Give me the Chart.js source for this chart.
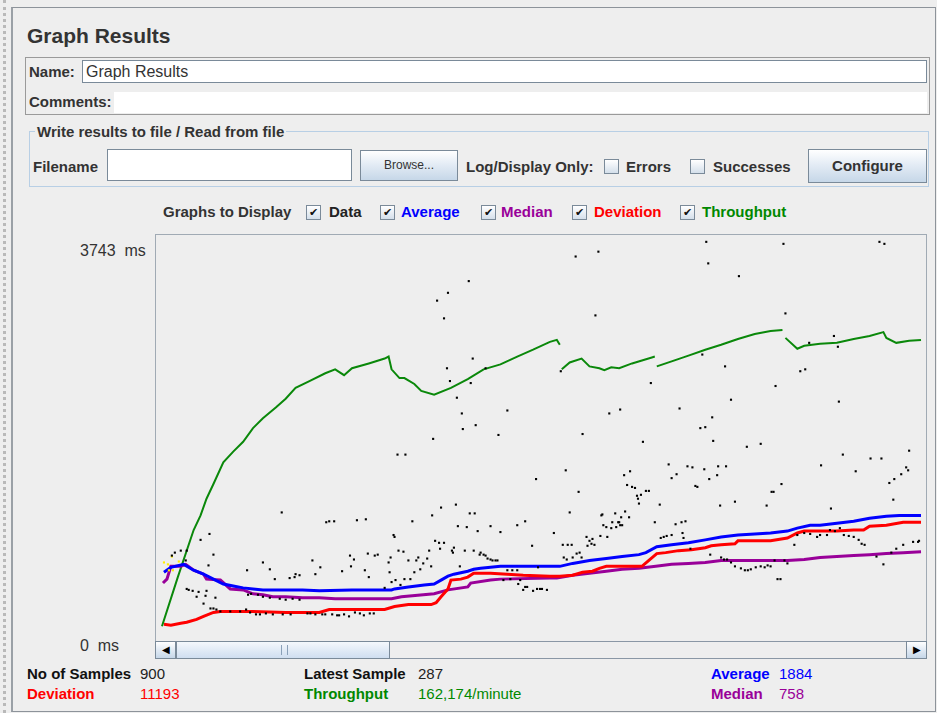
<!DOCTYPE html>
<html lang="en">
  <head>
    <meta charset="UTF-8" />
    <title>Graph Results</title>
    <script src="https://cdn.jsdelivr.net/npm/chart.js"></script>
    <style>
      body {
        margin: 0;
        width: 937px;
        height: 713px;
        background: #eeeeee;
        font-family: 'Liberation Sans', Arial, sans-serif;
        color: #222;
        position: relative;
        overflow: hidden;
      }
      .abs { position: absolute; white-space: nowrap; line-height: 18px; }
      .b { font-weight: bold; }
      .lbl { font-size: 15px; font-weight: bold; color: #333; }
      .val { font-size: 15px; }
      .field { position: absolute; background: #fff; border: 1px solid #7a8a99; box-sizing: border-box; }
      .btn {
        position: absolute; box-sizing: border-box; border: 1px solid #7a8a99;
        background: linear-gradient(#ffffff, #e4ecf5 45%, #c6d7e8);
        text-align: center; color: #333;
      }
      .cb {
        position: absolute; width: 15px; height: 15px; box-sizing: border-box;
        border: 1px solid #7a8a99; background: linear-gradient(#ffffff, #d4dfeb);
        font-size: 11px; line-height: 13px; text-align: center; color: #111;
      }
      #frame {
        position: absolute; left: 155px; top: 234px; width: 772px; height: 407px;
        box-sizing: border-box; border: 1px solid #a0aab4; border-bottom: none;
      }
      #graph { position: absolute; left: 156px; top: 235px; }
    </style>
  </head>
  <body>
    <!-- splitter strip + outer panel -->
    <div class="abs" style="left:3px;top:0;width:0;height:713px;border-left:3px dotted #b9b9b9"></div>
    <div class="abs" style="left:11px;top:7px;width:922px;height:703px;border:1px solid #8d939a;border-left:2px solid #9aa0a6"></div>

    <div class="abs b" style="left:27px;top:25px;font-size:21px;line-height:22px;color:#333">Graph Results</div>

    <div class="abs" style="left:25px;top:57px;width:903px;height:56px;border:1px solid #9a9a9a"></div>
    <div class="abs lbl" style="left:29px;top:63px">Name:</div>
    <div class="field" style="left:82px;top:60px;width:845px;height:23px"></div>
    <div class="abs" style="left:86px;top:63px;font-size:16px;color:#333">Graph Results</div>
    <div class="abs lbl" style="left:29px;top:93px">Comments:</div>
    <div class="abs" style="left:114px;top:92px;width:813px;height:21px;background:#fff"></div>

    <div class="abs" style="left:29px;top:131px;width:898px;height:54px;border:1px solid #b8cfe5"></div>
    <div class="abs lbl" style="left:35px;top:123px;background:#eeeeee;padding:0 2px">Write results to file / Read from file</div>
    <div class="abs lbl" style="left:33px;top:158px">Filename</div>
    <div class="field" style="left:107px;top:149px;width:245px;height:32px"></div>
    <div class="btn" style="left:360px;top:150px;width:98px;height:31px;font-size:12px;line-height:29px">Browse...</div>
    <div class="abs lbl" style="left:466px;top:158px">Log/Display Only:</div>
    <div class="cb" style="left:604px;top:159px"></div>
    <div class="abs lbl" style="left:626px;top:158px">Errors</div>
    <div class="cb" style="left:690px;top:159px"></div>
    <div class="abs lbl" style="left:713px;top:158px">Successes</div>
    <div class="btn b" style="left:808px;top:149px;width:119px;height:34px;font-size:15px;line-height:32px">Configure</div>

    <div class="abs lbl" style="left:163px;top:203px">Graphs to Display</div>
    <div class="cb" style="left:306px;top:205px">&#10004;</div>
    <div class="abs lbl" style="left:329px;top:203px;color:#222">Data</div>
    <div class="cb" style="left:380px;top:205px">&#10004;</div>
    <div class="abs lbl" style="left:401px;top:203px;color:#0000ff">Average</div>
    <div class="cb" style="left:481px;top:205px">&#10004;</div>
    <div class="abs lbl" style="left:501px;top:203px;color:#990099">Median</div>
    <div class="cb" style="left:572px;top:205px">&#10004;</div>
    <div class="abs lbl" style="left:594px;top:203px;color:#ff0000">Deviation</div>
    <div class="cb" style="left:680px;top:205px">&#10004;</div>
    <div class="abs lbl" style="left:702px;top:203px;color:#008800">Throughput</div>

    <div class="abs" style="left:80px;top:242px;font-size:16px;color:#333">3743&nbsp; ms</div>
    <div class="abs" style="left:80px;top:637px;font-size:16px;color:#333">0 &nbsp;ms</div>

    <div id="frame"></div>
    <canvas id="graph" width="770" height="403"></canvas>

    <!-- horizontal scrollbar -->
    <div class="abs" style="left:155px;top:641px;width:772px;height:18px;box-sizing:border-box;border:1px solid #8a97a5;background:#eeeeee"></div>
    <div class="btn" style="left:155px;top:641px;width:21px;height:18px;font-size:10px;line-height:16px;color:#000">&#9664;</div>
    <div class="abs" style="left:176px;top:641px;width:214px;height:18px;box-sizing:border-box;border:1px solid #7a8a99;background:linear-gradient(#f4f8fc,#cfdef0)"></div>
    <div class="abs" style="left:281px;top:645px;width:5px;height:10px;border-left:1px solid #8aa0b8;border-right:1px solid #8aa0b8"></div>
    <div class="btn" style="left:906px;top:641px;width:21px;height:18px;font-size:10px;line-height:16px;color:#000">&#9654;</div>

    <!-- statistics -->
    <div class="abs lbl" style="left:27px;top:665px;color:#111">No of Samples</div>
    <div class="abs val" style="left:140px;top:665px;color:#222">900</div>
    <div class="abs lbl" style="left:304px;top:665px;color:#111">Latest Sample</div>
    <div class="abs val" style="left:418px;top:665px;color:#222">287</div>
    <div class="abs lbl" style="left:711px;top:665px;color:#0000ff">Average</div>
    <div class="abs val" style="left:779px;top:665px;color:#0000ff">1884</div>
    <div class="abs lbl" style="left:27px;top:685px;color:#ff0000">Deviation</div>
    <div class="abs val" style="left:140px;top:685px;color:#ff0000">11193</div>
    <div class="abs lbl" style="left:304px;top:685px;color:#008800">Throughput</div>
    <div class="abs val" style="left:418px;top:685px;color:#008800">162,174/minute</div>
    <div class="abs lbl" style="left:711px;top:685px;color:#990099">Median</div>
    <div class="abs val" style="left:779px;top:685px;color:#990099">758</div>

    <script>
      // sample index (x) and response time in ms (y)
      const yMax = 3743;
      const xMax = 770;

      const throughputIdx = [2, 18, 34, 41, 47, 54, 64, 74, 84, 94, 104, 117, 127, 137, 151, 167, 177, 186, 194, 211,
        227, 231, 234, 242, 247, 257, 264, 277, 294, 311, 327, 344, 361, 377, 394, 401, 404, 405, 406, 414,
        426, 434, 444, 449, 456, 464, 477, 497, 500, 501, 502, 517, 534, 551, 567, 584, 601, 617, 629, 630,
        632, 644, 651, 667, 684, 701, 717, 731, 734, 744, 757, 769];
      const throughputMs = [74, 539, 985, 1124, 1282, 1421, 1626, 1728, 1821, 1951, 2044, 2146, 2230, 2332, 2397, 2471, 2508, 2453, 2518, 2564,
        2610, 2629, 2508, 2425, 2425, 2369, 2304, 2267, 2332, 2415, 2508, 2555, 2629, 2694, 2768, 2787, 2741, null, 2508, 2573,
        2610, 2536, 2518, 2499, 2527, 2518, 2564, 2620, 2629, null, 2536, 2583, 2638, 2694, 2741, 2796, 2843, 2871, 2880, null,
        2806, 2703, 2731, 2750, 2759, 2796, 2824, 2861, 2806, 2759, 2778, 2787];

      const averageIdx = [4, 11, 24, 34, 44, 54, 64, 74, 84, 94, 104, 127, 144, 161, 194, 234, 237, 251, 267, 277,
        284, 291, 297, 311, 317, 324, 344, 394, 404, 417, 434, 451, 467, 484, 491, 502, 517, 534, 551, 567,
        584, 601, 617, 634, 644, 657, 667, 684, 701, 717, 734, 747, 769];
      const averageMs = [585, 632, 660, 604, 567, 520, 474, 455, 437, 427, 418, 418, 418, 409, 418, 418, 427, 446, 465, 474,
        511, 548, 567, 595, 613, 622, 641, 641, 641, 669, 697, 715, 734, 752, 771, 827, 845, 864, 892, 920,
        938, 948, 957, 975, 1003, 1031, 1031, 1050, 1068, 1096, 1115, 1124, 1124];

      const medianIdx = [3, 7, 11, 21, 26, 34, 44, 47, 61, 71, 84, 94, 104, 114, 127, 144, 161, 177, 234, 244,
        277, 291, 311, 314, 334, 344, 394, 401, 417, 434, 451, 467, 484, 501, 517, 534, 551, 567, 617, 634,
        651, 667, 684, 701, 717, 734, 751, 769];
      const medianMs = [483, 520, 641, 641, 660, 604, 567, 520, 511, 427, 418, 381, 372, 353, 353, 344, 344, 334, 334, 353,
        381, 418, 446, 483, 511, 520, 530, 530, 557, 576, 595, 613, 622, 641, 660, 669, 678, 697, 697, 697,
        706, 725, 734, 743, 752, 762, 771, 780];

      const deviationIdx = [4, 11, 21, 27, 37, 44, 54, 61, 77, 94, 127, 144, 161, 171, 194, 227, 237, 251, 274, 279,
        284, 291, 294, 304, 311, 317, 334, 351, 367, 394, 404, 417, 427, 437, 444, 451, 487, 494, 502, 511,
        524, 537, 551, 557, 567, 581, 584, 601, 617, 634, 644, 651, 667, 684, 701, 711, 717, 734, 751, 769];
      const deviationMs = [93, 84, 102, 111, 139, 167, 204, 214, 214, 214, 204, 204, 204, 232, 232, 232, 260, 279, 279, 297,
        353, 427, 511, 520, 539, 576, 576, 567, 557, 548, 548, 557, 585, 595, 622, 641, 641, 697, 762, 771,
        790, 799, 818, 836, 845, 855, 883, 883, 883, 910, 957, 975, 975, 975, 985, 985, 1022, 1031, 1059, 1059];

      const sampleIdx = [
        312, 291, 280, 287, 316, 290, 293, 314, 329, 300, 305, 306, 319, 351,
        552, 630, 727, 732, 420, 443, 554, 585, 440, 632, 405, 548, 681, 685, 656, 571, 647, 652, 496, 622, 577, 686, 454, 465, 525, 558, 546, 551,
        123, 168, 171, 176, 199, 208, 240, 248, 276, 342, 380, 255, 275, 284, 299, 313, 318, 301, 310, 334, 361, 369,
        427, 410, 423, 414, 488, 559, 593, 607, 514, 533, 538, 550, 564, 572, 563, 555, 517, 522, 541, 543, 475, 469, 472, 477, 480, 491, 494, 482, 486, 483, 484, 505,
        566, 581, 613, 618, 620, 628, 668, 690, 703, 718, 729, 757, 754, 756, 749, 742, 737, 741, 678, 446, 460, 470, 466, 474, 457, 463, 448, 467, 500, 521, 527, 531,
        236, 237, 210, 217, 220, 192, 196, 193, 207, 231, 241, 246, 233, 232, 211, 251, 259, 257, 263, 266, 261, 270, 272, 274, 278, 282, 287, 283, 295, 297, 296,
        308, 317, 324, 329, 331, 336, 339, 344, 323, 303, 376, 253, 234, 238, 227, 243, 247, 186, 191, 197, 202, 206, 212, 216, 351, 356, 361, 367, 371, 377, 381,
        386, 391, 347, 321, 382, 327, 334, 341, 354, 362, 364, 369, 384,
        50, 41, 27, 21, 15, 12, 54, 49, 26, 27, 29, 33, 37, 39, 44, 47, 46, 56, 51, 54, 57, 61, 71, 81, 87, 91, 88, 104, 111, 116, 89, 92, 99, 104, 111, 121, 127,
        134, 141, 137, 141, 136, 131, 157, 154, 162, 184, 97, 101, 107, 114, 124, 132, 149, 152, 157, 164, 167, 174, 179, 181,
        398, 407, 412, 416, 408, 411, 417, 421, 424, 426, 431, 434, 437, 432, 436, 439, 445, 447, 451, 456, 461, 464, 465, 452, 506, 509, 512, 517, 528, 529, 536,
        556, 567, 570, 573, 577, 581, 587, 591, 594, 597, 602, 607, 611, 614, 617, 621, 631, 634, 624, 627, 641, 644, 651, 657, 664, 667, 674, 677, 682, 687, 691,
        696, 701, 706, 709, 712, 724, 731, 739, 744, 751, 761, 766, 767
      ];
      const sampleMs = [
        3344, 3233, 3159, 2991, 2610, 2518, 2397, 2378, 2518, 2239, 2090, 1942, 1979, 2118,
        3716, 3697, 3716, 3697, 3577, 3623, 3512, 3391, 3019, 3038, 2490, 2648, 2824, 2722, 2759, 2536, 2490, 2508, 2378, 2350, 2220, 2202, 2090, 2127, 2137, 2053, 1951, 1960,
        1152, 1059, 1068, 1068, 1078, 1087, 1700, 1700, 1849, 1886, 1468, 1068, 1124, 1198, 1226, 1143, 1143, 1022, 1013, 1022, 1031, 1068,
        1895, 1551, 1347, 1152, 1821, 1830, 1774, 1802, 1607, 1589, 1579, 1561, 1589, 1589, 1505, 1468, 1477, 1514, 1403, 1394, 1542, 1505, 1412, 1394, 1384, 1356, 1356, 1310, 1319, 1282, 1236, 1226,
        1217, 1254, 1217, 1347, 1347, 1421, 1598, 1700, 1542, 1663, 1663, 1737, 1579, 1551, 1514, 1468, 1431, 1273, 1189, 1124, 1143, 1161, 1106, 1106, 1059, 1059, 1031, 1031, 1059, 1040, 1059, 1068,
        938, 920, 762, 743, 752, 743, 706, 641, 604, 678, 790, 780, 725, 585, 539, 697, 697, 585, 613, 669, 725, 715, 790, 641, 883, 864, 864, 808, 790, 818, 771,
        790, 790, 771, 743, 715, 697, 697, 966, 752, 641, 836, 520, 492, 511, 437, 465, 520, 186, 167, 204, 195, 177, 195, 195, 604, 604, 604, 418, 446, 409, 427,
        427, 418, 511, 975, 632, 752, 706, 697, 520, 474, 511, 446, 427,
        948, 892, 790, 790, 771, 743, 752, 650, 697, 427, 418, 409, 353, 399, 288, 409, 362, 344, 242, 242, 232, 214, 214, 214, 232, 204, 604, 678, 613, 520, 372, 381, 372, 353, 344, 334, 325,
        334, 325, 567, 557, 539, 530, 567, 697, 632, 595, 186, 186, 195, 186, 186, 186, 195, 195, 186, 186, 186, 186, 177, 177,
        957, 845, 845, 845, 725, 706, 725, 762, 771, 725, 920, 883, 901, 836, 855, 845, 929, 1133, 1013, 1003, 1013, 1059, 1031, 920, 910, 920, 929, 938, 957, 910, 808,
        752, 725, 706, 706, 678, 641, 622, 604, 604, 613, 632, 641, 632, 650, 641, 697, 697, 669, 520, 520, 845, 938, 957, 948, 920, 938, 938, 985, 975, 1003, 938,
        929, 920, 892, 855, 845, 734, 660, 771, 808, 845, 873, 873, 883
      ];

      const firstIdx = [4, 8, 9, 12, 13, 19];
      const firstMs = [678, 660, 604, 734, 604, 687];

      const zip = (xs, ys) => xs.map((x, i) => ({ x: x, y: ys[i] }));

      const lineSet = (label, xs, ys, color, width) => ({
        label: label,
        data: zip(xs, ys),
        showLine: true,
        borderColor: color,
        backgroundColor: color,
        borderWidth: width,
        pointRadius: 0,
        tension: 0,
        spanGaps: false,
      });

      new Chart(document.getElementById('graph').getContext('2d'), {
        type: 'scatter',
        data: {
          datasets: [
            {
              label: 'Data',
              data: zip(sampleIdx, sampleMs),
              backgroundColor: '#000000',
              borderWidth: 0,
              pointStyle: 'rect',
              pointRadius: 1.5,
            },
            {
              label: 'Data (start)',
              data: zip(firstIdx, firstMs),
              backgroundColor: '#ffee00',
              borderWidth: 0,
              pointStyle: 'rect',
              pointRadius: 1.5,
            },
            lineSet('Average', averageIdx, averageMs, '#0000ff', 3),
            lineSet('Deviation', deviationIdx, deviationMs, '#ff0000', 3),
            lineSet('Median', medianIdx, medianMs, '#990099', 3),
            lineSet('Throughput', throughputIdx, throughputMs, '#0a880a', 2),
          ],
        },
        options: {
          responsive: false,
          animation: false,
          layout: { padding: 0 },
          plugins: { legend: { display: false }, tooltip: { enabled: false } },
          scales: {
            x: { type: 'linear', min: 0, max: xMax, display: false },
            y: { min: 0, max: yMax, display: false },
          },
        },
      });
    </script>
  </body>
</html>
